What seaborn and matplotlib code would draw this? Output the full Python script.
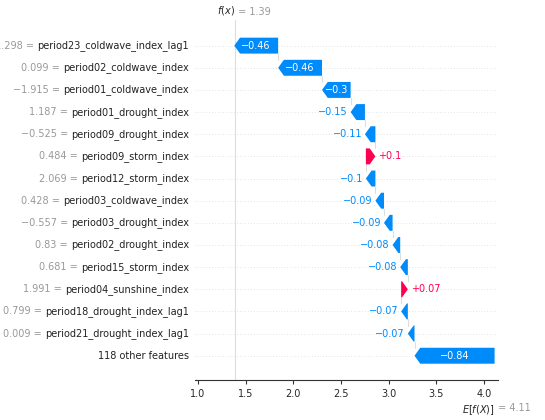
import matplotlib.pyplot as plt
import seaborn as sns
import numpy as np

features = ['period23_coldwave_index_lag1', 'period02_coldwave_index', 'period01_coldwave_index',
            'period01_drought_index', 'period09_drought_index', 'period09_storm_index',
            'period12_storm_index', 'period03_coldwave_index', 'period03_drought_index',
            'period02_drought_index', 'period15_storm_index', 'period04_sunshine_index',
            'period18_drought_index_lag1', 'period21_drought_index_lag1', '118 other features']
feat_vals = ['\u22121.298', '0.099', '\u22121.915', '1.187', '\u22120.525', '0.484', '2.069',
             '0.428', '\u22120.557', '0.83', '0.681', '1.991', '0.799', '0.009', None]
shap_vals = [-0.46, -0.46, -0.3, -0.15, -0.11, 0.1, -0.1, -0.09, -0.09, -0.08, -0.08, 0.07,
             -0.07, -0.07, -0.84]
base_value = 4.11
fx = 1.39

sns.set_style('white')
plt.rcParams['font.family'] = ['DejaVu Sans']
blue, red = '#008bfb', '#ff0051'
fs = 7

fig = plt.figure(figsize=(5.45, 4.2), dpi=100)
ax = fig.add_axes([0.358, 0.095, 0.556, 0.857])
ax.set_xlim(0.969, 4.147)
n = len(shap_vals)
ax.set_ylim(n - 1 + 1.1, -1.15)

# bar start positions, accumulated from the base value upwards
ends = np.zeros(n)
cur = base_value
for i in range(n - 1, -1, -1):
    ends[i] = cur
    cur = cur + shap_vals[i]

renderer = fig.canvas.get_renderer()
h = 0.72
head = 0.06
for i, v in enumerate(shap_vals):
    ax.axhline(i, color='#cccccc', lw=0.5, ls=(0, (1, 3)), zorder=0)
    s = ends[i]
    e = s + v
    col = red if v > 0 else blue
    d = np.sign(v)
    hl = min(head, abs(v))
    body = e - d * hl
    xs = [s, body, e, body, s]
    ys = [i - h / 2, i - h / 2, i, i + h / 2, i + h / 2]
    ax.fill(xs, ys, color=col, lw=0, zorder=3)
    txt = ('+' if v > 0 else '\u2212') + f'{abs(v):g}'
    if abs(v) > 0.25:
        ax.text((s + e) / 2, i, txt, color='white', ha='center', va='center', fontsize=fs, zorder=4)
    elif v > 0:
        ax.text(e + 0.03, i, txt, color=col, ha='left', va='center', fontsize=fs)
    else:
        ax.text(e - 0.03, i, txt, color=col, ha='right', va='center', fontsize=fs)
    # y labels: black feature name, grey value in front of it
    t = ax.text(-0.02, i, features[i], transform=ax.get_yaxis_transform(),
                ha='right', va='center', fontsize=fs, color='#222222')
    if feat_vals[i] is not None:
        w = t.get_window_extent(renderer).width
        ax.annotate(feat_vals[i] + ' = ', (-0.02, i), xycoords=ax.get_yaxis_transform(),
                    xytext=(-w * 72 / fig.dpi, 0), textcoords='offset points',
                    ha='right', va='center', fontsize=fs, color='#999999')

ax.axvline(fx, color='#dddddd', lw=0.8, zorder=0)
for i in range(n - 1):
    x0 = ends[i]
    ax.plot([x0, x0], [i + h / 2, i + 1 - h / 2], color='#dddddd', lw=0.8, zorder=1)

ax.set_yticks([])
for sp in ['left', 'right', 'top']:
    ax.spines[sp].set_visible(False)
ax.spines['bottom'].set_color('#333333')
ax.set_xticks([1.0, 1.5, 2.0, 2.5, 3.0, 3.5, 4.0])
ax.tick_params(axis='x', labelsize=fs, length=3, bottom=True, color='#333333')

ax.text(fx, 1.01, '$f(x)$', transform=ax.get_xaxis_transform(), ha='right', va='bottom', fontsize=fs)
ax.text(fx, 1.01, ' = 1.39', transform=ax.get_xaxis_transform(), ha='left', va='bottom',
        fontsize=fs, color='#999999')
ax.text(base_value, -0.065, '$E[f(X)]$', transform=ax.get_xaxis_transform(), ha='right', va='top',
        fontsize=fs)
ax.text(base_value, -0.065, ' = 4.11', transform=ax.get_xaxis_transform(), ha='left', va='top',
        fontsize=fs, color='#999999')

fig.savefig('out.png', dpi=100)
